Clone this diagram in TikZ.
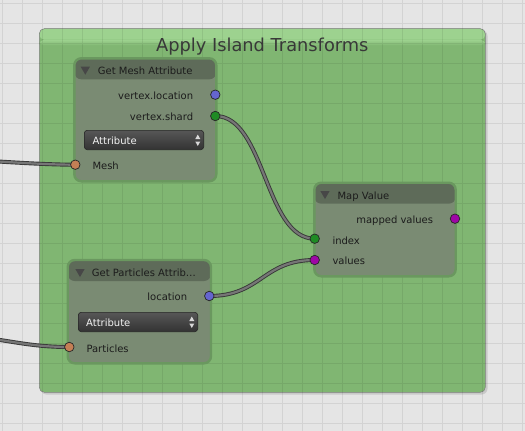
\documentclass[tikz,border=0pt]{standalone}
\usepackage{fontspec}
\setmainfont{DejaVu Sans}
\usepackage{tikz}
\usetikzlibrary{positioning, shapes.geometric}
\definecolor{canvasBg}{HTML}{E5E5E5}
\definecolor{frameGreen}{HTML}{80B672}
\definecolor{frameTop}{HTML}{9DD28F}
\definecolor{nodeBody}{HTML}{7A8B73}
\definecolor{nodeHead}{HTML}{5E6B59}
\definecolor{nodeRim}{HTML}{6A985F}
\definecolor{wireCore}{HTML}{767676}
\definecolor{wireEdge}{HTML}{383838}
\definecolor{sockVec}{HTML}{6565CF}
\definecolor{sockInt}{HTML}{1F8B24}
\definecolor{sockList}{HTML}{9E07A6}
\definecolor{sockObj}{HTML}{C47F55}
\definecolor{labelDark}{HTML}{1C1C1C}
\pgfdeclarelayer{canvas}
\pgfdeclarelayer{wires}
\pgfsetlayers{canvas,wires,main}
\tikzstyle{islandFrame}=[draw=black!50, line width=0.5pt, fill=frameGreen, rounded corners=5pt, inner sep=0pt, outer sep=0pt, anchor=north west, minimum width=446pt, minimum height=363.6pt, path picture={\fill[frameTop] (path picture bounding box.north west) rectangle ([yshift=-11pt]path picture bounding box.north east); \shade[top color=frameTop, bottom color=frameGreen] ([yshift=-11pt]path picture bounding box.north west) rectangle ([yshift=-17pt]path picture bounding box.north east);}]
\tikzstyle{frameTitle}=[anchor=base, inner sep=0pt, text=black!78, font=\fontsize{17.8}{20}\selectfont]
\tikzstyle{gridLine}=[black, opacity=0.075, line width=0.8pt]
\tikzstyle{nodeBox}=[draw=nodeRim, line width=2.4pt, fill=nodeBody, rounded corners=7pt, inner sep=0pt, outer sep=0pt, anchor=north west, path picture={\fill[nodeHead] (path picture bounding box.north west) rectangle ([yshift=-21pt]path picture bounding box.north east);}]
\tikzstyle{headArrow}=[regular polygon, regular polygon sides=3, shape border rotate=180, fill=black!72, minimum size=10.7pt, inner sep=0pt]
\tikzstyle{headText}=[anchor=base west, inner sep=0pt, text=labelDark, font=\fontsize{10}{12}\selectfont]
\tikzstyle{sockLabel}=[inner sep=0pt, text=labelDark, font=\fontsize{10}{12}\selectfont]
\tikzstyle{socket}=[circle, draw=black!85, line width=0.7pt, minimum size=9.5pt, inner sep=0pt]
\tikzstyle{menuBox}=[draw=black!85, line width=0.6pt, rounded corners=3pt, top color=black!66, bottom color=black!80, minimum width=119.4pt, minimum height=19.4pt, inner sep=0pt, outer sep=0pt, anchor=north west]
\tikzstyle{menuText}=[anchor=base west, inner sep=0pt, text=black!5, font=\fontsize{10}{12}\selectfont]
\tikzstyle{menuArrow}=[fill=black!15]
\tikzstyle{wire}=[draw=wireEdge, double=wireCore, line width=0.9pt, double distance=2.2pt]
\newcommand{\menuArrows}[1]{%
  \fill[menuArrow] (#1.east) ++(-8.4,-1) -- ++(5,0) -- ++(-2.5,-4.5) -- cycle;
  \fill[menuArrow] (#1.east) ++(-8.4,1.5) -- ++(5,0) -- ++(-2.5,4.5) -- cycle;}

\begin{document}
\begin{tikzpicture}[x=1pt, y=-1pt]
  \useasboundingbox (0,0) rectangle (525,431);

  % editor background and frame
  \begin{pgfonlayer}{canvas}
    \fill[canvasBg] (0,0) rectangle (525,431);
    \fill[black, opacity=0.12, rounded corners=6pt] (40.5,30) rectangle (487.5,394.5);
    \node[islandFrame] (island) at (39.3,28.7) {};
    \draw[gridLine] foreach \gx in {2.7,22.7,...,522.7} {(\gx,0) -- (\gx,431)}
      foreach \gy in {3.3,23.3,...,423.3} {(0,\gy) -- (525,\gy)};
  \end{pgfonlayer}
  \node[frameTitle] (islandTitle) at (262.3,51.5) {Apply Island Transforms};

  % get mesh attribute
  \node[nodeBox, minimum width=142pt, minimum height=123pt] (mesh) at (74.3,58.3) {};
  \node[headArrow] (meshArrow) at (85.3,69.4) {};
  \node[headText] (meshTitle) at (97.7,74) {Get Mesh Attribute};
  \node[sockLabel, anchor=base east] (meshLocText) at (193.3,99) {vertex.location};
  \node[sockLabel, anchor=base east] (meshShardText) at (193.3,120.3) {vertex.shard};
  \node[menuBox] (meshMenu) at (84.3,130.3) {};
  \node[menuText] (meshMenuText) at (92.3,144) {Attribute};
  \menuArrows{meshMenu}
  \node[sockLabel, anchor=base west] (meshMeshText) at (92.3,169.5) {Mesh};
  \node[socket, fill=sockVec] (meshLoc) at (215.3,94.7) {};
  \node[socket, fill=sockInt] (meshShard) at (215.3,116) {};
  \node[socket, fill=sockObj] (meshMesh) at (75.3,164.7) {};

  % map value
  \node[nodeBox, minimum width=141.4pt, minimum height=93.6pt] (mapv) at (314.3,182.7) {};
  \node[headArrow] (mapvArrow) at (325,193.7) {};
  \node[headText] (mapvTitle) at (337.3,199) {Map Value};
  \node[sockLabel, anchor=base east] (mapvOutText) at (433.3,223.5) {mapped values};
  \node[sockLabel, anchor=base west] (mapvIndexText) at (332.3,244) {index};
  \node[sockLabel, anchor=base west] (mapvValuesText) at (332.3,264.5) {values};
  \node[socket, fill=sockList] (mapvOut) at (455,218.7) {};
  \node[socket, fill=sockInt] (mapvIndex) at (314.7,238.7) {};
  \node[socket, fill=sockList] (mapvValues) at (314.7,260) {};

  % get particles attribute
  \node[nodeBox, minimum width=143.3pt, minimum height=103.3pt] (part) at (67.7,260) {};
  \node[headArrow] (partArrow) at (80,271.7) {};
  \node[headText] (partTitle) at (91.7,276) {Get Particles Attrib…};
  \node[sockLabel, anchor=base east] (partLocText) at (187.3,300.5) {location};
  \node[menuBox] (partMenu) at (78.3,312.3) {};
  \node[menuText] (partMenuText) at (86,326) {Attribute};
  \menuArrows{partMenu}
  \node[sockLabel, anchor=base west] (partPartText) at (86.3,352) {Particles};
  \node[socket, fill=sockVec] (partLoc) at (209.3,296) {};
  \node[socket, fill=sockObj] (partPart) at (69.3,347) {};

  % links
  \coordinate (meshFeed) at (-100,157);
  \coordinate (partFeed) at (-50,336);
  \begin{pgfonlayer}{wires}
    \begin{scope}
      \clip (0,0) rectangle (525,431);
      \draw[wire] (meshFeed) .. controls +(50,0) and +(-50,0) .. (meshMesh.center);
      \draw[wire] (partFeed) .. controls +(50,0) and +(-50,0) .. (partPart.center);
      \draw[wire] (meshShard.center) .. controls +(50,0) and +(-50,0) .. (mapvIndex.center);
      \draw[wire] (partLoc.center) .. controls +(52,0) and +(-52,0) .. (mapvValues.center);
    \end{scope}
  \end{pgfonlayer}
\end{tikzpicture}
\end{document}
